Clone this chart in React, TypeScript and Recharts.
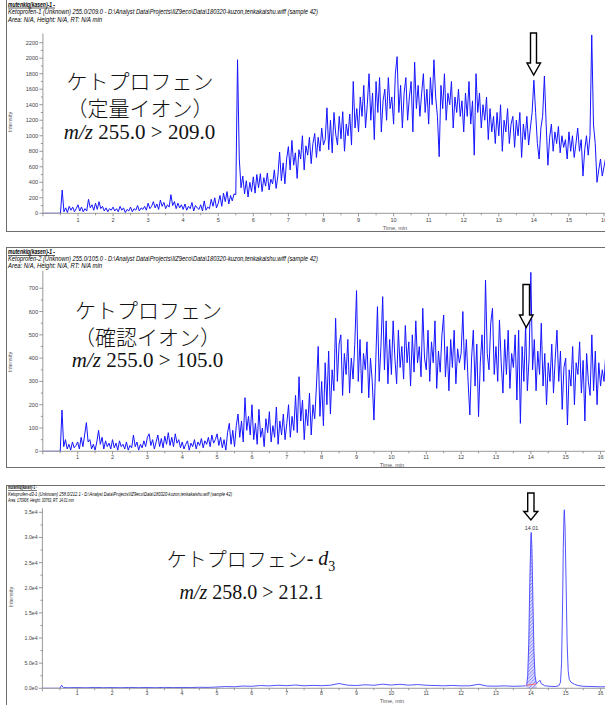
import React from "react";
import { ComposedChart, Line, Area, XAxis, YAxis } from "recharts";

// ---------- DATA ----------
// Sampling grid of the two noisy traces (min)
const SAMPLE_START = 0;
const SAMPLE_STEP = 0.05;

// Ketoprofen quantifier ion m/z 255.0 > 209.0 (one value per 0.05 min from 0.00 min)
const quantIntensity = [
  0, 0, 0, 0, 0, 0, 0, 0, 0, 0, 0, 300, 20, 70, 10, 90, 40, 80, 20, 60,
  110, 30, 80, 20, 60, 30, 180, 70, 110, 40, 130, 50, 150, 60, 90, 30, 70, 20, 60, 40,
  80, 30, 60, 20, 90, 40, 70, 10, 50, 30, 80, 20, 60, 40, 100, 30, 70, 50, 90, 40,
  130, 60, 90, 150, 70, 120, 50, 170, 90, 140, 60, 110, 80, 240, 100, 150, 60, 130, 70, 110,
  50, 120, 40, 90, 60, 140, 30, 100, 70, 50, 110, 30, 160, 40, 80, 60, 180, 90, 200, 70,
  130, 230, 90, 260, 150, 280, 120, 230, 160, 250, 240, 1980, 700, 330, 480, 250, 420, 210, 400, 280,
  470, 260, 500, 330, 510, 280, 460, 350, 520, 300, 440, 380, 560, 320, 480, 790, 420, 650, 380, 700,
  860, 560, 940, 620, 780, 450, 820, 700, 1000, 560, 870, 750, 980, 640, 900, 1030, 720, 980, 800, 1100,
  880, 950, 1360, 820, 1200, 780, 1300, 1020, 880, 1250, 960, 1310, 800, 1150, 1000, 1280, 880, 1700, 1100, 1350,
  1050, 1500, 1250, 1650, 1100, 1400, 1800, 1200, 1550, 950, 1700, 1300, 1750, 1050, 1450, 1600, 1200, 1750, 1350, 1500,
  1150, 1800, 2020, 1300, 1650, 1100, 1550, 1750, 1200, 1500, 1700, 1050, 1950, 1350, 1650, 1250, 1550, 1800, 1300, 1600,
  1150, 1750, 1400, 1980, 1500, 1250, 730, 1650, 1350, 1800, 1200, 1550, 1400, 1700, 1100, 1500, 1300, 1600, 1250, 1450,
  1050, 1550, 1250, 1700, 1150, 1450, 750, 1800, 1300, 1550, 1100, 1400, 1200, 1500, 950, 1350, 1050, 1250, 900, 1300,
  1000, 1400, 800, 1200, 1050, 1350, 900, 1150, 1250, 850, 1200, 1000, 1300, 720, 1150, 950, 1250, 880, 1100, 1300,
  1716, 1300, 900, 700, 1100, 1250, 1770, 1150, 620, 980, 1150, 800, 1050, 900, 1120, 780, 1000, 850, 950, 700,
  1050, 800, 1000, 720, 900, 1100, 800, 950, 480, 820, 1000, 750, 1000, 2300, 1140, 900, 400, 560, 700, 480,
  600, 720, 550, 680, 600, 650, 600,
];

// Ketoprofen qualifier ion m/z 255.0 > 105.0 (same grid)
const qualIntensity = [
  0, 0, 0, 0, 0, 0, 0, 0, 0, 0, 0, 177, 20, 50, 10, 30, 5, 40, 15, 25,
  40, 10, 60, 20, 70, 123, 40, 50, 10, 30, 5, 40, 90, 30, 60, 10, 45, 20, 35, 10,
  50, 15, 35, 5, 45, 20, 30, 10, 40, 5, 25, 15, 70, 20, 40, 5, 30, 15, 45, 20,
  60, 75, 25, 50, 10, 40, 70, 20, 55, 15, 65, 30, 80, 25, 60, 20, 75, 35, 50, 15,
  40, 10, 30, 45, 5, 35, 20, 50, 10, 40, 25, 55, 15, 45, 30, 60, 20, 70, 35, 50,
  75, 25, 60, 15, 50, 5, 80, 120, 30, 90, 20, 110, 160, 60, 130, 40, 230, 90, 150, 70,
  200, 50, 120, 30, 180, 60, 100, 20, 140, 80, 170, 40, 110, 60, 190, 30, 130, 70, 160, 50,
  120, 200, 60, 150, 90, 240, 80, 320, 130, 220, 50, 180, 110, 250, 70, 200, 140, 280, 450, 150,
  300, 110, 380, 200, 430, 160, 350, 260, 571, 300, 460, 500, 240, 420, 330, 480, 250, 400, 310, 460,
  690, 300, 480, 250, 420, 350, 470, 230, 400, 300, 134, 380, 621, 300, 450, 664, 350, 560, 290, 480,
  330, 560, 400, 290, 520, 360, 450, 310, 540, 380, 470, 280, 500, 340, 560, 380, 450, 320, 614, 400,
  350, 520, 300, 470, 380, 560, 270, 430, 340, 500, 585, 320, 450, 260, 480, 360, 520, 290, 440, 380,
  420, 600, 350, 480, 300, 156, 400, 520, 280, 460, 149, 380, 500, 300, 735, 420, 350, 550, 614, 330,
  450, 300, 564, 380, 250, 480, 330, 520, 270, 420, 360, 500, 220, 520, 120, 450, 300, 540, 260, 400,
  768, 350, 480, 260, 430, 330, 550, 280, 420, 200, 380, 300, 460, 250, 400, 520, 300, 430, 180, 360,
  400, 113, 350, 280, 450, 200, 380, 330, 470, 250, 390, 130, 420, 300, 240, 500, 260, 430, 200, 380,
  280, 350, 300, 420, 330, 380, 300,
];

// Ketoprofen-d3 m/z 258.0 > 212.1
const d3Times = [
  0, 0.5, 0.55, 0.6, 0.75,
  1, 1.25, 1.5, 1.75, 2, 2.25, 2.5, 2.75, 3, 3.25, 3.5, 3.75, 4, 4.25, 4.5, 4.75,
  5, 5.25, 5.5, 5.75, 6, 6.25, 6.5, 6.75, 7, 7.25, 7.5, 7.75, 8, 8.25, 8.5, 8.75,
  9, 9.25, 9.5, 9.75, 10, 10.25, 10.5, 10.75, 11, 11.25, 11.5, 11.75, 12, 12.25, 12.5, 12.75,
  13, 13.25, 13.5, 13.75,
  13.85, 13.88, 13.91, 13.94, 13.97, 14.0, 14.01, 14.03, 14.06, 14.09, 14.12, 14.16,
  14.22, 14.26, 14.3, 14.4, 14.55, 14.7, 14.8,
  14.85, 14.88, 14.91, 14.93, 14.95, 14.96, 14.98, 15.01, 15.04, 15.07, 15.1, 15.15,
  15.25, 15.35, 15.5, 15.75, 16, 16.3,
];
const d3Intensity = [
  0, 0, 600, 150, 120,
  150, 100, 180, 120, 150, 110, 170, 130, 160, 120, 180, 140, 170, 150, 200, 180,
  250, 350, 300, 450, 400, 550, 480, 600, 520, 650, 500, 580, 520, 600, 950, 620,
  550, 700, 600, 820, 650, 800, 620, 750, 600, 550, 500, 560, 480, 500, 800, 450,
  420, 480, 400, 450,
  500, 600, 2500, 9000, 21000, 30000, 31000, 28000, 17000, 7000, 2500, 900,
  1300, 1600, 900, 500, 400, 350, 500,
  1200, 5000, 17000, 28000, 34500, 35500, 32000, 21000, 9000, 3500, 1800, 1200,
  800, 550, 400, 350, 300, 300,
];
// integrated peak (RT 14.01) limits
const PEAK_START = 13.88;
const PEAK_END = 14.16;
const PEAK_RT_LABEL = "14.01";

// axis ticks
const timeTicks = [0, 1, 2, 3, 4, 5, 6, 7, 8, 9, 10, 11, 12, 13, 14, 15, 16];
const quantTicks = [0, 200, 400, 600, 800, 1000, 1200, 1400, 1600, 1800, 2000, 2200];
const qualTicks = [0, 100, 200, 300, 400, 500, 600, 700];
const d3Ticks = [0, 5000, 10000, 15000, 20000, 25000, 30000, 35000];
const d3TickLabels = ["0.0e0", "5.0e3", "1.0e4", "1.5e4", "2.0e4", "2.5e4", "3.0e4", "3.5e4"];

// ---------- BUILD ROWS ----------
const gridRows = (vals: number[]) =>
  vals.map((v, i) => ({ t: Math.round((SAMPLE_START + i * SAMPLE_STEP) * 100) / 100, v }));
const quantRows = gridRows(quantIntensity);
const qualRows = gridRows(qualIntensity);
const d3Rows = d3Times.map((t, i) => {
  const v = d3Intensity[i];
  const inPeak = t >= PEAK_START - 1e-9 && t <= PEAK_END + 1e-9;
  const edge = Math.abs(t - PEAK_START) < 1e-9 || Math.abs(t - PEAK_END) < 1e-9;
  return { t, v, peak: inPeak ? v : undefined, base: edge ? v : undefined };
});

// ---------- LAYOUT ----------
const SANS = "'Liberation Sans', Arial, sans-serif";
const LATIN_SERIF = "'Liberation Serif', 'Times New Roman', serif";
const CJK = "'Noto Sans CJK JP', sans-serif";
const AXIS = "#808080";

type Spec = {
  chartTop: number;
  plotTop: number;
  plotBottom: number;
  plotLeft: number;
  pxPerMin: number;
  xMax: number;
  yMax: number;
  yTicks: number[];
  yLabels: string[];
  fontSize: number;
  xLabelDy: number;
};

function Chromatogram({ spec, data, children }: { spec: Spec; data: any[]; children: any }) {
  const xAxisH = 20;
  const width = spec.plotLeft + spec.xMax * spec.pxPerMin + 2;
  const height = spec.plotBottom - spec.chartTop + xAxisH;
  const axisY = spec.plotBottom - spec.chartTop;
  const xAll: number[] = [];
  timeTicks.forEach((t) => {
    xAll.push(t);
    if (t + 0.5 <= spec.xMax) xAll.push(t + 0.5);
  });
  const yAll: number[] = [];
  spec.yTicks.forEach((v, i) => {
    yAll.push(v);
    if (i < spec.yTicks.length - 1) yAll.push((v + spec.yTicks[i + 1]) / 2);
  });
  const XTick = (p: any) => {
    const val = p.payload.value;
    const major = Math.abs(val - Math.round(val)) < 1e-6;
    return (
      <g>
        <line x1={p.x} x2={p.x} y1={axisY} y2={axisY + (major ? 3 : 2)} stroke={AXIS} strokeWidth={0.8} />
        {major && val >= 1 && (
          <text x={p.x} y={axisY + spec.xLabelDy} textAnchor="middle" dominantBaseline="central"
            fontFamily={SANS} fontSize={spec.fontSize} fill="#444">
            {val}
          </text>
        )}
      </g>
    );
  };
  const YTick = (p: any) => {
    const val = p.payload.value;
    const idx = spec.yTicks.indexOf(val);
    const major = idx >= 0;
    return (
      <g>
        <line x1={spec.plotLeft - (major ? 3.5 : 2)} x2={spec.plotLeft} y1={p.y} y2={p.y} stroke={AXIS} strokeWidth={0.8} />
        {major && (
          <text x={spec.plotLeft - 4.8} y={p.y} textAnchor="end" dominantBaseline="central"
            fontFamily={SANS} fontSize={spec.fontSize} fill="#444">
            {spec.yLabels[idx]}
          </text>
        )}
      </g>
    );
  };
  return (
    <div style={{ position: "absolute", left: 0, top: spec.chartTop }}>
      <ComposedChart width={width} height={height} data={data}
        margin={{ top: spec.plotTop - spec.chartTop, right: 2, bottom: 0, left: 0 }}>
        <XAxis type="number" dataKey="t" domain={[0, spec.xMax]} ticks={xAll} interval={0}
          tick={(p: any) => <XTick {...p} />} tickLine={false} axisLine={{ stroke: AXIS, strokeWidth: 0.8 }}
          height={xAxisH} allowDataOverflow />
        <YAxis type="number" domain={[0, spec.yMax]} ticks={yAll} interval={0}
          tick={(p: any) => <YTick {...p} />} tickLine={false} axisLine={{ stroke: AXIS, strokeWidth: 0.8 }}
          width={spec.plotLeft} allowDataOverflow />
        {children}
      </ComposedChart>
    </div>
  );
}

const quantSpec: Spec = {
  chartTop: 0, plotTop: 33.4, plotBottom: 213.3, plotLeft: 42.9, pxPerMin: 35.07, xMax: 16.3,
  yMax: 2320, yTicks: quantTicks, yLabels: quantTicks.map(String), fontSize: 5.6, xLabelDy: 7,
};
const qualSpec: Spec = {
  chartTop: 250, plotTop: 270.8, plotBottom: 451.3, plotLeft: 42.8, pxPerMin: 34.86, xMax: 16.3,
  yMax: 775, yTicks: qualTicks, yLabels: qualTicks.map(String), fontSize: 5.6, xLabelDy: 6,
};
const d3Spec: Spec = {
  chartTop: 490, plotTop: 508.3, plotBottom: 688.3, plotLeft: 42.4, pxPerMin: 34.89, xMax: 16.3,
  yMax: 35800, yTicks: d3Ticks, yLabels: d3TickLabels, fontSize: 5.2, xLabelDy: 5,
};

function Header({ y, lines, lengths, size }: { y: number[]; lines: string[]; lengths: number[]; size: number }) {
  return (
    <g fontFamily={SANS} fontStyle="italic" fill="#000">
      {lines.map((s, i) => (
        <text key={i} x={8} y={y[i]} dominantBaseline="central" fontSize={size}
          fontWeight={i === 0 ? "bold" : "normal"} textLength={lengths[i]} lengthAdjust="spacingAndGlyphs"
          textDecoration={i === 0 ? "underline" : undefined}>
          {s}
        </text>
      ))}
    </g>
  );
}

const PATH = "D:\\Analyst Data\\Projects\\IIZ9eco\\Data\\180320-kuzon,tenkakaishu.wiff (sample 42)";

function Arrow({ x0, x1, top, neck, hx0, hx1, tipX, tipY }: any) {
  return (
    <path d={`M${x0},${top} L${x1},${top} L${x1},${neck} L${hx1},${neck} L${tipX},${tipY} L${hx0},${neck} L${x0},${neck} Z`}
      fill="#fff" stroke="#000" strokeWidth={1.4} strokeLinejoin="miter" />
  );
}

function MzLine({ x, y, size, text }: { x: number; y: number; size: number; text: string }) {
  return (
    <text x={x} y={y} fontSize={size} fontFamily={LATIN_SERIF} fontWeight="normal" fill="#111"
      textAnchor="middle" dominantBaseline="central">
      <tspan fontStyle="italic">m/z</tspan>{" " + text}
    </text>
  );
}

export default function App() {
  return (
    <div style={{ position: "absolute", left: 0, top: 0, width: 605, height: 705, overflow: "hidden", background: "#fff" }}>
      <svg width={1} height={1} style={{ position: "absolute", left: 0, top: 0 }}>
        <defs>
          <pattern id="peakHatch" width="2.4" height="2.4" patternUnits="userSpaceOnUse" patternTransform="rotate(45)">
            <rect width="2.4" height="2.4" fill="#dcdcff" />
            <line x1="0" y1="0" x2="0" y2="2.4" stroke="#5a5aff" strokeWidth="1" />
          </pattern>
        </defs>
      </svg>

      <Chromatogram spec={quantSpec} data={quantRows}>
        <Line dataKey="v" stroke="#1414ff" strokeWidth={1} dot={false} isAnimationActive={false} />
      </Chromatogram>
      <Chromatogram spec={qualSpec} data={qualRows}>
        <Line dataKey="v" stroke="#1414ff" strokeWidth={1} dot={false} isAnimationActive={false} />
      </Chromatogram>
      <Chromatogram spec={d3Spec} data={d3Rows}>
        <Area dataKey="peak" stroke="none" fill="url(#peakHatch)" fillOpacity={1} connectNulls={false} dot={false} activeDot={false} isAnimationActive={false} />
        <Line dataKey="v" stroke="#4040ff" strokeWidth={0.9} dot={false} isAnimationActive={false} />
        <Line dataKey="base" stroke="#ff6060" strokeWidth={1} connectNulls dot={false} isAnimationActive={false} />
      </Chromatogram>

      <svg width={605} height={705} style={{ position: "absolute", left: 0, top: 0, pointerEvents: "none" }}>
        {/* panel frames */}
        <g fill="none" stroke="#6e6e6e" strokeWidth={1}>
          <rect x={6.5} y={-2} width={640} height={233.5} />
          <rect x={6.5} y={247.5} width={640} height={220} />
          <rect x={6.5} y={485.5} width={640} height={240} />
        </g>

        <Header y={[4.2, 11.8, 19.3]} size={6.5} lengths={[47, 310, 94]}
          lines={["mutenkiq(kasen)-1 -", "Ketoprofen-1 (Unknown) 255.0/209.0 - " + PATH, "Area: N/A, Height: N/A, RT: N/A min"]} />
        <Header y={[251.8, 258.6, 265]} size={6.5} lengths={[47, 310, 94]}
          lines={["mutenkiq(kasen)-1 -", "Ketoprofen-2 (Unknown) 255.0/105.0 - " + PATH, "Area: N/A, Height: N/A, RT: N/A min"]} />
        <Header y={[487.4, 494.2, 500]} size={5.2} lengths={[29, 224, 66]}
          lines={["mutenkiq(kasen)-1 -", "Ketoprofen-d3-1 (Unknown) 258.0/212.1 - " + PATH, "Area: 170908, Height: 30763, RT: 14.01 min"]} />

        {/* axis titles */}
        <g fontFamily={SANS} fontSize={5.6} fill="#555">
          <text x={395} y={227.5} textAnchor="middle" dominantBaseline="central">Time, min</text>
          <text x={392} y={464.5} textAnchor="middle" dominantBaseline="central">Time, min</text>
          <text x={392} y={701} textAnchor="middle" dominantBaseline="central">Time, min</text>
          <text transform="translate(10,122) rotate(-90)" textAnchor="middle" dominantBaseline="central">Intensity</text>
          <text transform="translate(10,362) rotate(-90)" textAnchor="middle" dominantBaseline="central">Intensity</text>
          <text transform="translate(10.7,597) rotate(-90)" textAnchor="middle" dominantBaseline="central">Intensity</text>
        </g>

        {/* compound labels */}
        <g fontFamily={CJK} fill="#111" fontWeight={300} textAnchor="middle" dominantBaseline="central">
          <text x={140} y={80} fontSize={21}>ケトプロフェン</text>
          <text x={140} y={107} fontSize={21}>（定量イオン）</text>
          <text x={148.5} y={309} fontSize={21}>ケトプロフェン</text>
          <text x={147.5} y={336} fontSize={21}>（確認イオン）</text>
          <text x={251} y={558} fontSize={20}>
            ケトプロフェン
            <tspan fontFamily={LATIN_SERIF} fontWeight="normal">{"- "}</tspan>
            <tspan fontFamily={LATIN_SERIF} fontWeight="normal" fontStyle="italic">d</tspan>
            <tspan fontFamily={LATIN_SERIF} fontWeight="normal" dy={8} fontSize={14}>3</tspan>
          </text>
        </g>
        <MzLine x={139.5} y={132} size={21} text="255.0 > 209.0" />
        <MzLine x={147.5} y={360} size={21} text="255.0 > 105.0" />
        <MzLine x={251.5} y={592} size={20} text="258.0 > 212.1" />

        {/* arrows */}
        <Arrow x0={530.5} x1={536.5} top={33} neck={63} hx0={527} hx1={540.5} tipX={533.7} tipY={75} />
        <Arrow x0={523} x1={529.5} top={284.5} neck={315} hx0={519.5} hx1={533} tipX={526.2} tipY={327.5} />
        <Arrow x0={527.7} x1={534} top={493} neck={511.5} hx0={523.8} hx1={537.8} tipX={530.9} tipY={520} />

        <text x={531.5} y={527.5} fontFamily={SANS} fontSize={5.4} fill="#333" textAnchor="middle" dominantBaseline="central">
          {PEAK_RT_LABEL}
        </text>
      </svg>
    </div>
  );
}
